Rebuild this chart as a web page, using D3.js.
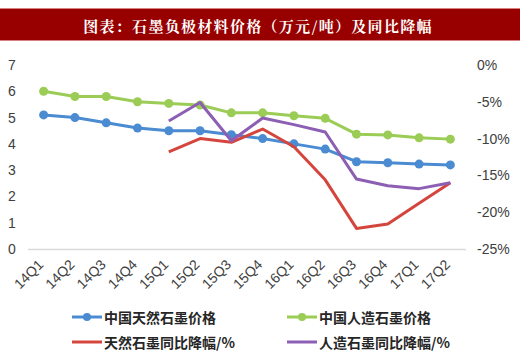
<!DOCTYPE html>
<html><head><meta charset="utf-8">
<script src="https://cdn.jsdelivr.net/npm/d3@7"></script>
<style>html,body{margin:0;padding:0;background:#fff;}svg{display:block;}</style>
</head><body><svg id="c" width="520" height="359"></svg>
<script>
const title = "图表：石墨负极材料价格（万元/吨）及同比降幅";
const categories = ["14Q1","14Q2","14Q3","14Q4","15Q1","15Q2","15Q3","15Q4","16Q1","16Q2","16Q3","16Q4","17Q1","17Q2"];
const naturalPrice = [5.1,5.0,4.8,4.6,4.5,4.5,4.35,4.2,4.0,3.8,3.32,3.28,3.23,3.2];
const artificialPrice = [6.0,5.8,5.8,5.6,5.54,5.48,5.18,5.18,5.07,4.97,4.37,4.34,4.23,4.18];
const naturalYoY = [null,null,null,null,-11.8,-10.0,-10.5,-8.7,-11.1,-15.6,-22.2,-21.6,-18.8,-16.0];
const artificialYoY = [null,null,null,null,-7.6,-5.1,-10.3,-7.2,-8.1,-9.1,-15.5,-16.4,-16.8,-16.0];
const leftTicks = [0,1,2,3,4,5,6,7];
const rightTicks = [0,-5,-10,-15,-20,-25];
const seriesNames = ["中国天然石墨价格","中国人造石墨价格","天然石墨同比降幅/%","人造石墨同比降幅/%"];
const colors = ["#4a8bd2","#9bcc55","#d4463d","#8c5fb5"];

const svg = d3.select("#c");
// title bar
svg.append("rect").attr("x",0).attr("y",8).attr("width",520).attr("height",33).attr("fill","#980000");
svg.append("line").attr("x1",0).attr("x2",520).attr("y1",8.5).attr("y2",8.5).attr("stroke","#d98080").attr("stroke-width",1);
svg.append("line").attr("x1",0).attr("x2",520).attr("y1",40.5).attr("y2",40.5).attr("stroke","#d98080").attr("stroke-width",1);
svg.append("text").attr("x",258).attr("y",25).attr("text-anchor","middle").attr("dominant-baseline","central")
  .attr("fill","#fff").attr("font-family","'Noto Serif CJK SC','Noto Sans CJK SC',sans-serif").attr("font-size",15)
  .attr("font-weight","bold").attr("letter-spacing",1.3).text(title);

const x = d3.scaleBand().domain(categories).range([28,466]).padding(0);
const cx = d => x(d) + x.bandwidth()/2;
const yL = d3.scaleLinear().domain([0,7]).range([249,65]);
const yR = d3.scaleLinear().domain([-25,0]).range([249,65]);

const fontAxis = "'Liberation Sans',Arial,sans-serif";
// x axis line
svg.append("line").attr("x1",28).attr("x2",466).attr("y1",yL(0)+0.5).attr("y2",yL(0)+0.5).attr("stroke","#d9d9d9").attr("stroke-width",1.5);

// left ticks
svg.selectAll(".lt").data(leftTicks).enter().append("text")
  .attr("x",12).attr("y",d=>yL(d)).attr("text-anchor","middle").attr("dominant-baseline","central")
  .attr("font-family",fontAxis).attr("font-size",14).attr("fill","#404040").text(d=>d);
// right ticks
svg.selectAll(".rt").data(rightTicks).enter().append("text")
  .attr("x",477).attr("y",d=>yR(d)).attr("text-anchor","start").attr("dominant-baseline","central")
  .attr("font-family",fontAxis).attr("font-size",14).attr("fill","#404040").text(d=>d+"%");
// x labels
svg.selectAll(".xt").data(categories).enter().append("text")
  .attr("transform",d=>`translate(${cx(d)-3},${262}) rotate(-45)`).attr("text-anchor","end")
  .attr("dominant-baseline","central")
  .attr("font-family",fontAxis).attr("font-size",14).attr("fill","#404040").text(d=>d);

function drawLine(vals, scale, color, markers){
  const pts = categories.map((c,i)=>({c, v: vals[i]})).filter(p=>p.v!=null);
  svg.append("path").datum(pts).attr("fill","none").attr("stroke",color).attr("stroke-width",3)
    .attr("stroke-linejoin","round")
    .attr("d", d3.line().x(p=>cx(p.c)).y(p=>scale(p.v)));
  if(markers){
    svg.selectAll(null).data(pts).enter().append("circle")
      .attr("cx",p=>cx(p.c)).attr("cy",p=>scale(p.v)).attr("r",4.5).attr("fill",color);
  }
}
drawLine(naturalPrice, yL, colors[0], true);
drawLine(artificialPrice, yL, colors[1], true);
drawLine(naturalYoY, yR, colors[2], false);
drawLine(artificialYoY, yR, colors[3], false);

// legend
const legPos = [[72,317],[287,317],[72,342],[287,342]];
seriesNames.forEach((n,i)=>{
  const [lx,ly] = legPos[i];
  svg.append("line").attr("x1",lx).attr("x2",lx+30).attr("y1",ly).attr("y2",ly).attr("stroke",colors[i]).attr("stroke-width",3);
  if(i<2) svg.append("circle").attr("cx",lx+15).attr("cy",ly).attr("r",4).attr("fill",colors[i]);
  svg.append("text").attr("x",lx+32).attr("y",ly).attr("dominant-baseline","central")
    .attr("font-family","'Noto Sans CJK SC',sans-serif").attr("font-size",14).attr("font-weight","bold")
    .attr("fill","#262626").text(n);
});
</script></body></html>
